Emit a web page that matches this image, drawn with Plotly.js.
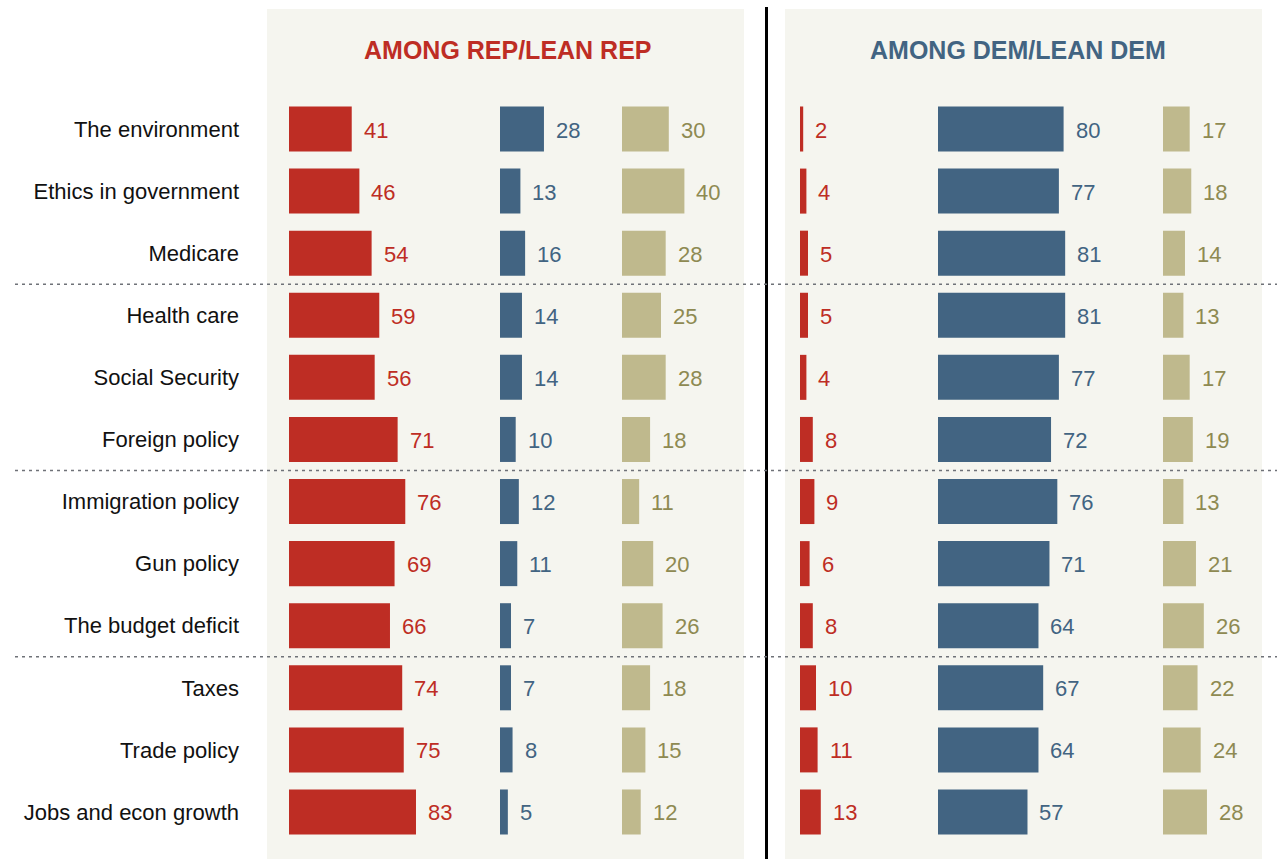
<!DOCTYPE html>
<html>
<head>
<meta charset="utf-8">
<script src="https://cdn.plot.ly/plotly-3.0.1.min.js"></script>
<style>html,body{margin:0;padding:0;background:#fff;}#chart{width:1277px;height:859px;}</style>
</head>
<body>
<div id="chart"></div>
<script>
// ---- DATA ----
const categories = ["The environment","Ethics in government","Medicare","Health care","Social Security","Foreign policy","Immigration policy","Gun policy","The budget deficit","Taxes","Trade policy","Jobs and econ growth"];
const repRed  = [41,46,54,59,56,71,76,69,66,74,75,83];
const repBlue = [28,13,16,14,14,10,12,11,7,7,8,5];
const repTan  = [30,40,28,25,28,18,11,20,26,18,15,12];
const demRed  = [2,4,5,5,4,8,9,6,8,10,11,13];
const demBlue = [80,77,81,81,77,72,76,71,64,67,64,57];
const demTan  = [17,18,14,13,17,19,13,21,26,22,24,28];
const panelTitles = ["AMONG REP/LEAN REP","AMONG DEM/LEAN DEM"];
const groupBreaks = [2.5, 5.5, 8.5];

// ---- STYLE / LAYOUT ----
const W = 1277, H = 859;
const RED = "#be2d24", BLUE = "#426482", TAN = "#bfb98d";
const RED_T = "#be2d24", BLUE_T = "#426482", TAN_T = "#8e8a52";
const FONT = "Liberation Sans, Arial, sans-serif";

const cols = [
  {vals: repRed,  color: RED,  tcolor: RED_T,  start: 289,  end: 495,  scale: 1.53},
  {vals: repBlue, color: BLUE, tcolor: BLUE_T, start: 500,  end: 617,  scale: 1.57},
  {vals: repTan,  color: TAN,  tcolor: TAN_T,  start: 622,  end: 740,  scale: 1.56},
  {vals: demRed,  color: RED,  tcolor: RED_T,  start: 800,  end: 933,  scale: 1.6},
  {vals: demBlue, color: BLUE, tcolor: BLUE_T, start: 938,  end: 1158, scale: 1.57},
  {vals: demTan,  color: TAN,  tcolor: TAN_T,  start: 1163, end: 1262, scale: 1.57}
];

const rowTop = 129, rowStep = 62.09;
const yRange = [(H - rowTop) / rowStep, -rowTop / rowStep];

const traces = [];
const annotations = [];
const layout = {
  width: W, height: H,
  margin: {l: 0, r: 0, t: 0, b: 0},
  paper_bgcolor: "#ffffff",
  plot_bgcolor: "rgba(0,0,0,0)",
  showlegend: false,
  font: {family: FONT, size: 20, color: "#111"},
  yaxis: {
    type: "category", categoryarray: categories, categoryorder: "array",
    range: yRange, domain: [0, 1], anchor: "free", position: 239 / W,
    showgrid: false, zeroline: false, showline: false, ticks: "",
    tickfont: {family: FONT, size: 22, color: "#111"}
  },
  shapes: [
    {type: "rect", xref: "paper", yref: "paper", x0: 267 / W, x1: 744 / W, y0: 0, y1: 1 - 9 / H, fillcolor: "#f5f5ef", line: {width: 0}, layer: "below"},
    {type: "rect", xref: "paper", yref: "paper", x0: 785 / W, x1: 1262 / W, y0: 0, y1: 1 - 9 / H, fillcolor: "#f5f5ef", line: {width: 0}, layer: "below"},
    {type: "line", xref: "paper", yref: "paper", x0: 766.5 / W, x1: 766.5 / W, y0: 0, y1: 1 - 7 / H, line: {color: "#000", width: 3}, layer: "above"}
  ],
  annotations: annotations
};

groupBreaks.forEach(b => {
  layout.shapes.push({type: "line", xref: "paper", yref: "y", x0: 15 / W, x1: 1, y0: b, y1: b,
    line: {color: "#6f7278", width: 1.5, dash: "3px,4px"}, layer: "above"});
});

cols.forEach((c, k) => {
  const ax = k === 0 ? "x" : "x" + (k + 1);
  const axKey = k === 0 ? "xaxis" : "xaxis" + (k + 1);
  layout[axKey] = {
    domain: [c.start / W, c.end / W],
    range: [0, (c.end - c.start) / c.scale],
    anchor: "y", visible: false, fixedrange: true
  };
  traces.push({
    type: "bar", orientation: "h", x: c.vals, y: categories,
    xaxis: ax, yaxis: "y", width: 0.725,
    marker: {color: c.color, line: {width: 0}}, hoverinfo: "skip"
  });
  c.vals.forEach((v, i) => {
    annotations.push({
      xref: ax, yref: "y", x: v, y: categories[i], xanchor: "left", yanchor: "middle",
      xshift: 10, yshift: -1, showarrow: false, text: String(v),
      font: {family: FONT, size: 22, color: c.tcolor}
    });
  });
});

annotations.push({xref: "paper", yref: "paper", x: 508 / W, y: 1 - 50 / H, xanchor: "center", yanchor: "middle",
  showarrow: false, text: "<b>" + panelTitles[0] + "</b>", font: {family: FONT, size: 25, color: RED}});
annotations.push({xref: "paper", yref: "paper", x: 1018 / W, y: 1 - 50 / H, xanchor: "center", yanchor: "middle",
  showarrow: false, text: "<b>" + panelTitles[1] + "</b>", font: {family: FONT, size: 25, color: BLUE}});

Plotly.newPlot("chart", traces, layout, {displayModeBar: false, staticPlot: true});
</script>
</body>
</html>
